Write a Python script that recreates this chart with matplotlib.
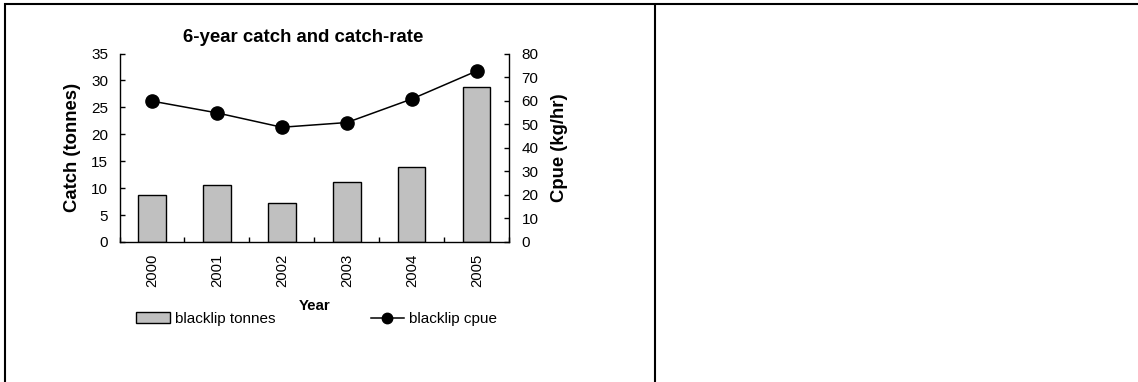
import matplotlib
matplotlib.use("Agg")
import matplotlib.pyplot as plt
from matplotlib.lines import Line2D
from matplotlib.patches import Patch
import numpy as np

# Catch and catch-rate by year
years = ["2000", "2001", "2002", "2003", "2004", "2005"]
tonnes = [8.8, 10.5, 7.2, 11.1, 14.0, 28.7]
cpue = [59.8, 54.8, 48.7, 50.7, 60.7, 72.6]

catch_ticks = [0, 5, 10, 15, 20, 25, 30, 35]
cpue_ticks = [0, 10, 20, 30, 40, 50, 60, 70, 80]

plt.rcParams["font.family"] = ["Liberation Sans", "DejaVu Sans"]

W, H = 1138, 382
fig = plt.figure(figsize=(W / 100, H / 100), dpi=100)
fig.patch.set_facecolor("white")

def fx(px):
    return px / W

def fy(py):
    return 1 - py / H

# table frame around the chart cell
frame_kw = dict(color="black", lw=1.5, transform=fig.transFigure, solid_capstyle="butt")
fig.add_artist(Line2D([fx(4), 1.0], [fy(3.5), fy(3.5)], **frame_kw))
fig.add_artist(Line2D([fx(5), fx(5)], [fy(3), 0.0], **frame_kw))
fig.add_artist(Line2D([fx(654.5), fx(654.5)], [fy(3), 0.0], **frame_kw))

left, right, top, bottom = 119.5, 509.3, 53.5, 242.0
ax = fig.add_axes([fx(left), fy(bottom), fx(right - left), (bottom - top) / H])
ax2 = ax.twinx()

x = np.arange(len(years))
ax.bar(x, tonnes, width=0.42, color="#C0C0C0", edgecolor="black", linewidth=1.0, zorder=2)
ax2.plot(x, cpue, color="black", lw=1.1, marker="o", markersize=9.5,
         markerfacecolor="black", markeredgecolor="black", zorder=3)

ax.set_xlim(-0.5, len(years) - 0.5)
ax.set_ylim(0, 35)
ax2.set_ylim(0, 80)
ax.set_yticks(catch_ticks)
ax2.set_yticks(cpue_ticks)

for a in (ax, ax2):
    a.spines["top"].set_visible(False)
    for s in a.spines.values():
        s.set_linewidth(1.0)
        s.set_color("black")

ax.spines["right"].set_visible(False)
ax2.spines["left"].set_visible(False)
ax2.spines["bottom"].set_visible(False)

ax.set_xticks(x)
ax.set_xticklabels(years, rotation=90, fontsize=10.7)
ax.set_xticks(np.arange(-0.5, len(years), 1.0), minor=True)
ax.tick_params(axis="x", which="major", length=0, pad=8.5)
ax.tick_params(axis="x", which="minor", direction="in", length=3.6, width=1.0)
ax.tick_params(axis="y", direction="in", length=3.6, width=1.0, labelsize=11, pad=8.2)
ax2.tick_params(axis="y", direction="in", length=3.6, width=1.0, labelsize=11, pad=8.8)

ax.set_ylabel("Catch (tonnes)", fontsize=13.3, fontweight="bold")
ax2.set_ylabel("Cpue (kg/hr)", fontsize=13.3, fontweight="bold")
ax.yaxis.set_label_coords((81 - left) / (right - left), 0.5)
ax2.yaxis.set_label_coords((551 - left) / (right - left), 0.5)

fig.text(fx(303), fy(37), "6-year catch and catch-rate",
         ha="center", va="center", fontsize=13.4, fontweight="bold")
fig.text(fx(315), fy(306), "Year",
         ha="center", va="center", fontsize=10.8, fontweight="bold")

handles = [
    Patch(facecolor="#C0C0C0", edgecolor="black", linewidth=1.0, label="blacklip tonnes"),
    Line2D([0], [0], color="black", lw=1.1, marker="o", markersize=7.5, label="blacklip cpue"),
]
fig.legend(handles=handles, loc="center left", bbox_to_anchor=(fx(136), fy(319)),
           ncol=2, frameon=False, fontsize=11, handlelength=2.2, handletextpad=0.33,
           columnspacing=6.25, borderpad=0, borderaxespad=0)

fig.savefig("out.png", dpi=100)
